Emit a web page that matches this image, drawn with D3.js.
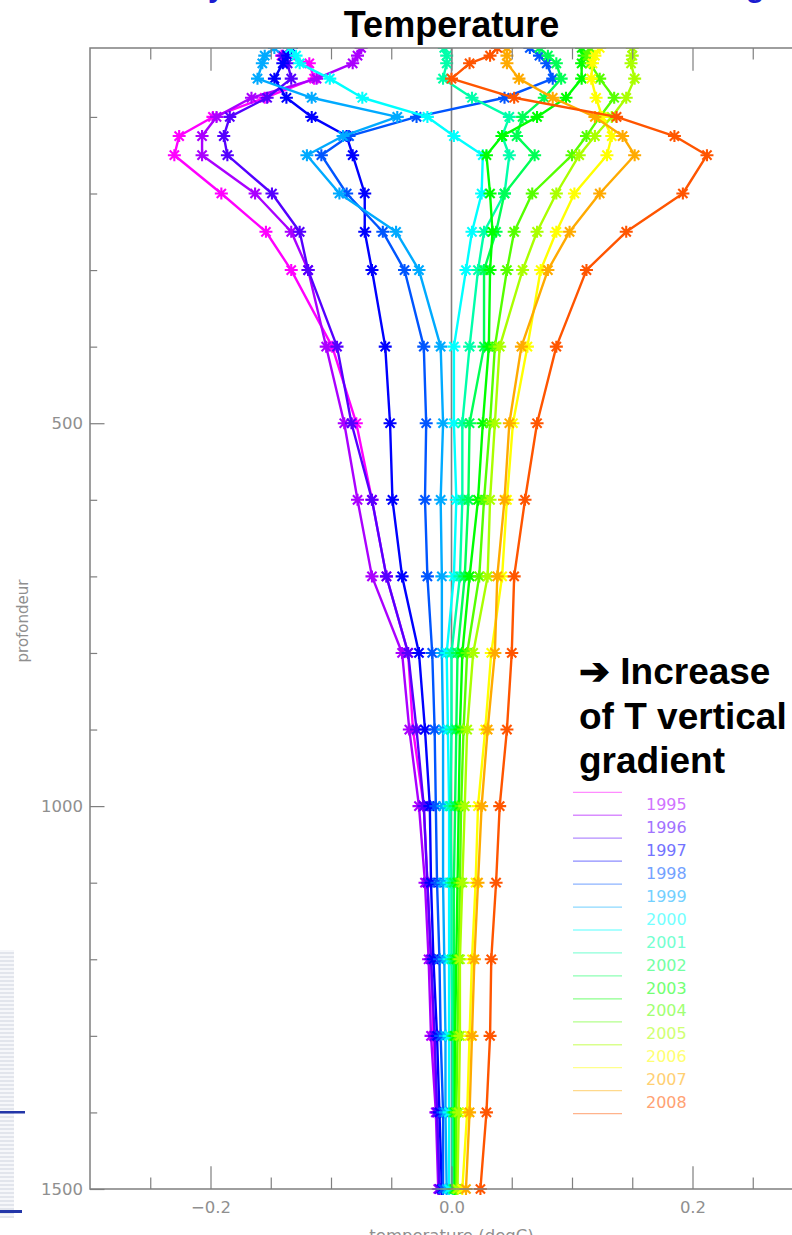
<!DOCTYPE html>
<html><head><meta charset="utf-8">
<script src="https://cdn.jsdelivr.net/npm/d3@7"></script>
<style>body{margin:0;background:#fff}svg{display:block}</style>
</head><body>
<script>
// ---- data ----
const depths = [10,20,30,50,75,100,125,150,200,250,300,400,500,600,700,800,900,1000,1100,1200,1300,1400,1500];
const anom00 = [-0.134,-0.141,-0.118,-0.114,-0.155,-0.198,-0.226,-0.230,-0.191,-0.154,-0.133,-0.099,-0.079,-0.066,-0.054,-0.036,-0.032,-0.023,-0.020,-0.017,-0.015,-0.012,-0.010];
const anom01 = [-0.075,-0.078,-0.082,-0.112,-0.166,-0.195,-0.207,-0.207,-0.163,-0.133,-0.119,-0.104,-0.089,-0.078,-0.066,-0.041,-0.035,-0.027,-0.022,-0.019,-0.017,-0.013,-0.011];
const anom02 = [-0.134,-0.140,-0.136,-0.133,-0.153,-0.184,-0.189,-0.186,-0.149,-0.126,-0.119,-0.095,-0.083,-0.066,-0.054,-0.036,-0.029,-0.023,-0.020,-0.017,-0.014,-0.012,-0.010];
const anom03 = [-0.133,-0.136,-0.140,-0.147,-0.137,-0.116,-0.087,-0.082,-0.072,-0.072,-0.066,-0.055,-0.051,-0.049,-0.041,-0.027,-0.022,-0.018,-0.017,-0.015,-0.012,-0.010,-0.008];
const anom04 = [0.065,0.073,0.079,0.084,0.044,-0.029,-0.085,-0.108,-0.087,-0.057,-0.039,-0.023,-0.021,-0.022,-0.020,-0.016,-0.014,-0.013,-0.012,-0.010,-0.009,-0.007,-0.007];
const anom05 = [-0.147,-0.155,-0.157,-0.161,-0.116,-0.045,-0.090,-0.120,-0.093,-0.046,-0.027,-0.009,-0.007,-0.009,-0.008,-0.008,-0.007,-0.007,-0.007,-0.006,-0.005,-0.005,-0.004];
const anom06 = [-0.134,-0.129,-0.126,-0.101,-0.074,-0.020,0.002,0.026,0.025,0.017,0.012,0.002,0.002,0.004,0.002,-0.004,-0.003,-0.002,-0.002,-0.002,-0.002,-0.002,-0.002];
const anom07 = [-0.006,-0.004,-0.004,-0.007,0.017,0.048,0.042,0.048,0.044,0.027,0.022,0.015,0.009,0.009,0.007,0.000,0.000,-0.001,0.000,0.000,0.001,0.001,0.001];
const anom08 = [0.073,0.080,0.087,0.091,0.077,0.059,0.054,0.069,0.044,0.037,0.027,0.027,0.015,0.014,0.011,0.005,0.004,0.003,0.002,0.002,0.002,0.002,0.002];
const anom09 = [0.108,0.110,0.108,0.108,0.095,0.071,0.042,0.029,0.032,0.034,0.032,0.031,0.026,0.022,0.015,0.009,0.007,0.006,0.005,0.004,0.003,0.003,0.003];
const anom10 = [0.115,0.113,0.115,0.123,0.135,0.123,0.112,0.100,0.067,0.052,0.046,0.036,0.032,0.027,0.023,0.013,0.010,0.008,0.007,0.006,0.005,0.004,0.004];
const anom11 = [0.150,0.150,0.149,0.152,0.145,0.133,0.119,0.106,0.087,0.071,0.059,0.040,0.036,0.032,0.030,0.018,0.013,0.011,0.009,0.007,0.007,0.006,0.005];
const anom12 = [0.123,0.119,0.117,0.116,0.120,0.125,0.133,0.129,0.102,0.087,0.074,0.063,0.051,0.046,0.042,0.033,0.028,0.022,0.020,0.017,0.015,0.013,0.009];
const anom13 = [0.046,0.046,0.046,0.056,0.084,0.119,0.142,0.152,0.123,0.098,0.080,0.058,0.048,0.044,0.038,0.036,0.030,0.025,0.022,0.019,0.017,0.015,0.012];
const anom14 = [0.038,0.032,0.015,0.000,0.052,0.137,0.185,0.212,0.192,0.145,0.112,0.087,0.071,0.061,0.052,0.050,0.046,0.040,0.037,0.033,0.032,0.029,0.024];
const legendYears = ["1995","1996","1997","1998","1999","2000","2001","2002","2003","2004","2005","2006","2007","2008"];
const xMajorTicks = [-0.2,0.0,0.2];
const xTickLabels = ["\u22120.2","0.0","0.2"];
const yMajorTicks = [500,1000,1500];
const yTickLabels = ["500","1000","1500"];

const series = [anom00,anom01,anom02,anom03,anom04,anom05,anom06,anom07,anom08,anom09,anom10,anom11,anom12,anom13,anom14];

// ---- layout ----
const W = 792, H = 1235;
const L = 90, R = 813, T = 48, B = 1189;
const svg = d3.select("body").append("svg").attr("width", W).attr("height", H);
const x = d3.scaleLinear().domain([-0.3, 0.3]).range([L, R]);
const y = d3.scaleLinear().domain([10, 1500]).range([T, B]);
const colors = series.map((s, i) => d3.hsl(300 - 20 * i, 1, 0.5).formatHex());
const pale = (c, k) => d3.interpolateRgb(c, "#ffffff")(k);

// slide decorations at left edge
const defs = svg.append("defs");
const pat = defs.append("pattern").attr("id", "stripes").attr("width", 4).attr("height", 4).attr("patternUnits", "userSpaceOnUse");
pat.append("rect").attr("width", 4).attr("height", 4).attr("fill", "#f6f7fa");
pat.append("rect").attr("width", 4).attr("height", 2).attr("fill", "#e2e5ec");
svg.append("rect").attr("x", 0).attr("y", 950).attr("width", 14).attr("height", 268).attr("fill", "url(#stripes)");
svg.append("rect").attr("x", 0).attr("y", 1111).attr("width", 25).attr("height", 2.5).attr("fill", "#2336a8");
svg.append("rect").attr("x", 0).attr("y", 1210).attr("width", 22).attr("height", 3).attr("fill", "#2336a8");
// cut-off slide heading fragments (only their lowest parts are visible)
svg.append("text").attr("x", 208).attr("y", -3).attr("font-family", "Liberation Sans, Arial, sans-serif")
  .attr("font-weight", "bold").attr("font-size", 30).attr("fill", "#1c1cd0").text("y");
svg.append("text").attr("x", 746).attr("y", -3).attr("font-family", "Liberation Sans, Arial, sans-serif")
  .attr("font-weight", "bold").attr("font-size", 30).attr("fill", "#1c1cd0").text("g");

// title
svg.append("text").attr("x", x(0)).attr("y", 37).attr("text-anchor", "middle")
  .attr("font-family", "Liberation Sans, Arial, sans-serif").attr("font-weight", "bold")
  .attr("font-size", 36).attr("fill", "#000").text("Temperature");

const axisColor = "#7f7f7f";
const fontAx = "DejaVu Sans, sans-serif";

// zero line
svg.append("line").attr("x1", x(0)).attr("x2", x(0)).attr("y1", T).attr("y2", B)
  .attr("stroke", "#808080").attr("stroke-width", 1.6);

// data
defs.append("clipPath").attr("id", "plotclip").append("rect")
  .attr("x", L).attr("y", T).attr("width", R - L).attr("height", B - T + 12);
const plot = svg.append("g").attr("clip-path", "url(#plotclip)");
const line = d3.line().x(d => x(d[0])).y(d => y(d[1]));
const star = "M-6.5,0H6.5M0,-6V6M-4.6,-4.6L4.6,4.6M-4.6,4.6L4.6,-4.6";
series.forEach((s, i) => {
  const pts = s.map((v, k) => [v, depths[k]]);
  plot.append("path").attr("d", line(pts)).attr("fill", "none")
    .attr("stroke", colors[i]).attr("stroke-width", 2.4).attr("stroke-linejoin", "round");
  plot.selectAll(null).data(pts).enter().append("path")
    .attr("d", star).attr("transform", d => `translate(${x(d[0])},${y(d[1])})`)
    .attr("fill", "none").attr("stroke", colors[i]).attr("stroke-width", 2.1);
});

// axes
function styleAxis(g) {
  g.select(".domain").remove();
  g.selectAll(".tick line").attr("stroke", axisColor).attr("stroke-width", 1.2);
  g.selectAll(".tick text").attr("fill", "#8f8f8f").attr("font-family", fontAx).attr("font-size", 16.5);
}
const xMinor = d3.range(-0.25, 0.3, 0.05).map(v => +v.toFixed(2)).filter(v => !xMajorTicks.includes(v));
const yMinor = d3.range(100, 1500, 100).filter(v => !yMajorTicks.includes(v));

svg.append("g").attr("transform", `translate(0,${B})`)
  .call(d3.axisBottom(x).tickValues(xMajorTicks).tickSize(-22.8).tickPadding(12)
    .tickFormat((d, i) => xTickLabels[i])).call(styleAxis);
svg.append("g").attr("transform", `translate(0,${B})`)
  .call(d3.axisBottom(x).tickValues(xMinor).tickSize(-11.4).tickFormat("")).call(styleAxis);
svg.append("g").attr("transform", `translate(0,${T})`)
  .call(d3.axisTop(x).tickValues(xMajorTicks).tickSize(-22.8).tickFormat("")).call(styleAxis);
svg.append("g").attr("transform", `translate(0,${T})`)
  .call(d3.axisTop(x).tickValues(xMinor).tickSize(-11.4).tickFormat("")).call(styleAxis);
svg.append("g").attr("transform", `translate(${L},0)`)
  .call(d3.axisLeft(y).tickValues(yMajorTicks).tickSize(-14.5).tickPadding(7)
    .tickFormat((d, i) => yTickLabels[i])).call(styleAxis);
svg.append("g").attr("transform", `translate(${L},0)`)
  .call(d3.axisLeft(y).tickValues(yMinor).tickSize(-7.2).tickFormat("")).call(styleAxis);

// frame
svg.append("path").attr("d", `M${R},${T}H${L}V${B}H${R}`).attr("fill", "none")
  .attr("stroke", axisColor).attr("stroke-width", 1.5);

// axis titles
svg.append("text").attr("transform", "translate(28,621) rotate(-90)").attr("text-anchor", "middle")
  .attr("font-family", fontAx).attr("font-size", 15).attr("fill", "#8f8f8f").text("profondeur");
svg.append("text").attr("x", x(0)).attr("y", 1241).attr("text-anchor", "middle")
  .attr("font-family", fontAx).attr("font-size", 16.5).attr("fill", "#8f8f8f").text("temperature (degC)");

// legend
const legY0 = 792.3, legStep = 22.95;
series.forEach((s, i) => {
  svg.append("line").attr("x1", 573).attr("x2", 622)
    .attr("y1", legY0 + i * legStep).attr("y2", legY0 + i * legStep)
    .attr("stroke", pale(colors[i], 0.55)).attr("stroke-width", 1.3);
});
legendYears.forEach((yr, k) => {
  svg.append("text").attr("x", 646).attr("y", legY0 + 12 + k * legStep).attr("dy", "0.35em")
    .attr("font-family", fontAx).attr("font-size", 16).attr("fill", pale(colors[k + 1], 0.45)).text(yr);
});

// annotation
const ann = svg.append("text").attr("font-family", "Liberation Sans, Arial, sans-serif")
  .attr("font-weight", "bold").attr("font-size", 37).attr("fill", "#000");
ann.append("tspan").attr("x", 579).attr("y", 684).text("\u2794 Increase");
ann.append("tspan").attr("x", 579).attr("y", 729).text("of T vertical");
ann.append("tspan").attr("x", 579).attr("y", 773).text("gradient");
</script>
</body></html>
